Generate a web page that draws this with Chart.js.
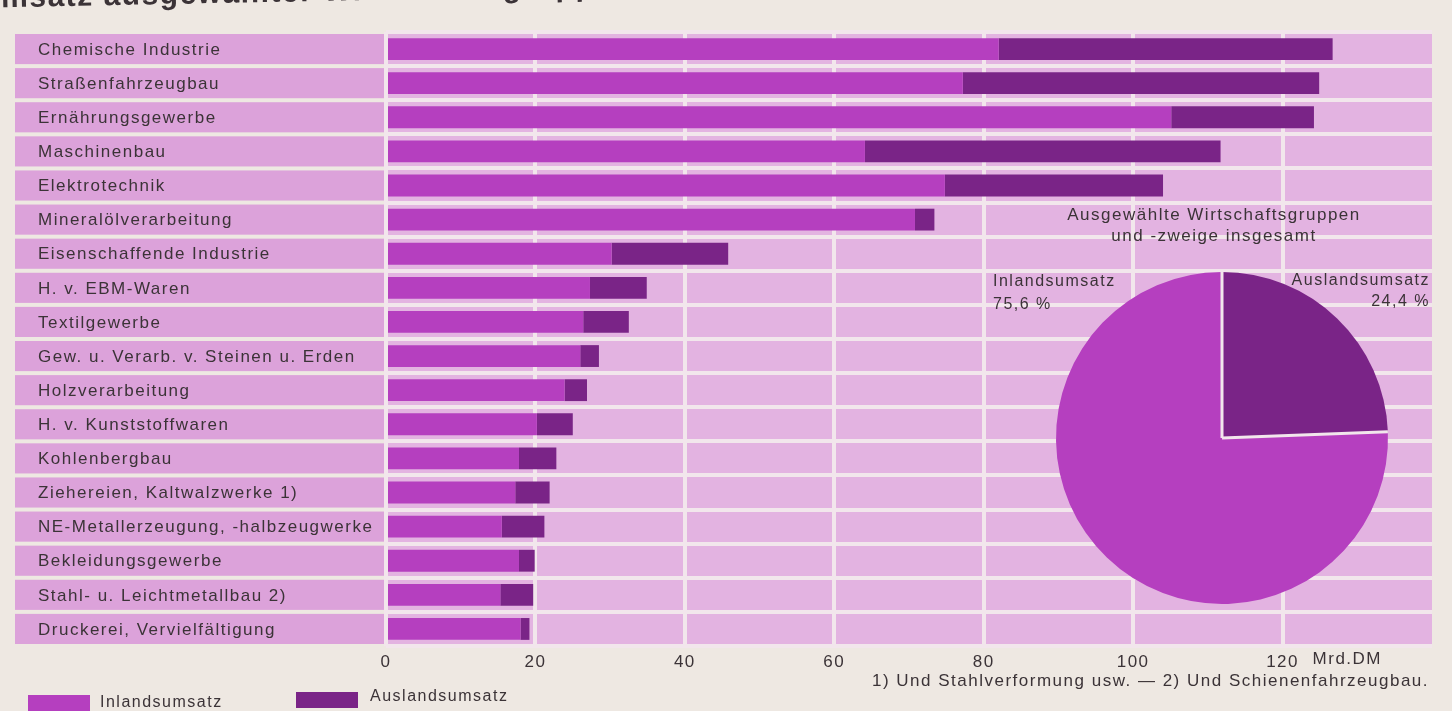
<!DOCTYPE html>
<html lang="de">
<head>
<meta charset="utf-8">
<title>Umsatz ausgewählter Wirtschaftsgruppen</title>
<script src="https://cdn.jsdelivr.net/npm/chart.js@4.4.1/dist/chart.umd.min.js"></script>
<style>
  html, body { margin: 0; padding: 0; background: #eee8e2; overflow: hidden; }
  #wrap { position: relative; width: 1452px; height: 711px; }
  #bars { position: absolute; left: 0; top: 0; }
  #pie { position: absolute; left: 980px; top: 195px; }
</style>
</head>
<body>
<div id="wrap">
  <canvas id="bars" width="1452" height="711"></canvas>
  <canvas id="pie" width="452" height="415"></canvas>
</div>
<script>
// Daten (Mrd. DM)
const branchen = [
    'Chemische Industrie',
    'Straßenfahrzeugbau',
    'Ernährungsgewerbe',
    'Maschinenbau',
    'Elektrotechnik',
    'Mineralölverarbeitung',
    'Eisenschaffende Industrie',
    'H. v. EBM-Waren',
    'Textilgewerbe',
    'Gew. u. Verarb. v. Steinen u. Erden',
    'Holzverarbeitung',
    'H. v. Kunststoffwaren',
    'Kohlenbergbau',
    'Ziehereien, Kaltwalzwerke 1)',
    'NE-Metallerzeugung, -halbzeugwerke',
    'Bekleidungsgewerbe',
    'Stahl- u. Leichtmetallbau 2)',
    'Druckerei, Vervielfältigung'
];
const inlandsumsatz = [82.0, 77.2, 105.1, 64.1, 74.8, 70.8, 30.2, 27.3, 26.4, 26.0, 23.9, 20.2, 17.8, 17.3, 15.5, 17.8, 15.3, 18.0];
const auslandsumsatz = [44.7, 47.7, 19.1, 47.6, 29.2, 2.6, 15.6, 7.6, 6.1, 2.5, 3.0, 4.8, 5.0, 4.6, 5.7, 2.1, 4.4, 1.2];
const xTicks = [0, 20, 40, 60, 80, 100, 120];
const einheit = 'Mrd.DM';

const pieLabels = ['Auslandsumsatz', 'Inlandsumsatz'];
const pieValues = [24.4, 75.6];
const pieTitel = ['Ausgewählte Wirtschaftsgruppen', 'und -zweige insgesamt'];

const titel = 'Umsatz ausgewählter Wirtschaftsgruppen';
const fussnote = '1) Und Stahlverformung usw. — 2) Und Schienenfahrzeugbau.';

(function() {
    'use strict';

    const FARBE_INLAND = '#b53fbf';
    const FARBE_AUSLAND = '#7a2487';
    const FLAECHE = '#e3b3e1';
    const ZELLE = '#dca2da';
    const LINIE = '#f2e6ec';
    const TEXT = '#3b3337';
    const SCHRIFT = '"Liberation Sans", Arial, sans-serif';

    /**
     * Text mit Sperrung schreiben
     */
    function schreibe(ctx, text, x, y, align, size, weight) {
        ctx.save();
        ctx.font = (weight || 'normal') + ' ' + size + 'px ' + SCHRIFT;
        ctx.letterSpacing = '1.5px';
        ctx.fillStyle = TEXT;
        ctx.textAlign = align;
        ctx.textBaseline = 'middle';
        ctx.fillText(text, x, y);
        ctx.restore();
    }

    // Hintergrund, Zeilenfelder und Branchennamen
    const hintergrund = {
        id: 'hintergrund',
        beforeDraw(chart) {
            const { ctx, chartArea } = chart;
            const y = chart.scales.y;
            const pitch = y.getPixelForValue(1) - y.getPixelForValue(0);

            ctx.fillStyle = FLAECHE;
            ctx.fillRect(chartArea.left, chartArea.top, chartArea.right - chartArea.left, chartArea.bottom - chartArea.top);

            chart.data.labels.forEach((name, i) => {
                const yc = y.getPixelForValue(i);
                ctx.fillStyle = ZELLE;
                ctx.fillRect(15, yc - pitch / 2 + 2, chartArea.left - 17, pitch - 4);
                schreibe(ctx, name, 38, yc + 1, 'left', 17);
            });

            // Ticks der x-Achse sollen auch gesperrt sein
            ctx.letterSpacing = '1.5px';
        },
        afterDraw(chart) {
            const { ctx } = chart;
            const x = chart.scales.x;
            const ds = chart.data.datasets;

            // Überschrift: oben angeschnitten, leicht schräg wie im Druck
            ctx.save();
            ctx.rotate(-0.02);
            schreibe(ctx, titel, -22, -1, 'left', 30, 'bold');
            ctx.restore();

            schreibe(ctx, einheit, x.getPixelForValue(120) + 30, 659, 'left', 17);

            // Legende
            ctx.fillStyle = ds[0].backgroundColor;
            ctx.fillRect(28, 695, 62, 16);
            schreibe(ctx, ds[0].label, 100, 703, 'left', 16);
            ctx.fillStyle = ds[1].backgroundColor;
            ctx.fillRect(296, 692, 62, 16);
            schreibe(ctx, ds[1].label, 370, 697, 'left', 16);

            schreibe(ctx, fussnote, 872, 681, 'left', 17);
        }
    };

    new Chart(document.getElementById('bars'), {
        type: 'bar',
        data: {
            labels: branchen,
            datasets: [
                { label: 'Inlandsumsatz', data: inlandsumsatz, backgroundColor: FARBE_INLAND },
                { label: 'Auslandsumsatz', data: auslandsumsatz, backgroundColor: FARBE_AUSLAND }
            ]
        },
        options: {
            indexAxis: 'y',
            responsive: false,
            animation: false,
            devicePixelRatio: 1,
            layout: { padding: { left: 386, right: 20, top: 32, bottom: 0 } },
            datasets: { bar: { categoryPercentage: 1, barPercentage: 0.64 } },
            plugins: {
                legend: { display: false },
                tooltip: { enabled: false }
            },
            scales: {
                x: {
                    stacked: true,
                    min: 0,
                    max: 140,
                    afterFit: (s) => { s.height = 65; },
                    afterBuildTicks: (s) => { s.ticks = xTicks.map(v => ({ value: v })); },
                    grid: { color: LINIE, lineWidth: 4, drawTicks: false },
                    border: { display: false },
                    ticks: {
                        color: TEXT,
                        font: { family: SCHRIFT, size: 17 },
                        padding: 6,
                        maxRotation: 0
                    }
                },
                y: {
                    stacked: true,
                    grid: { color: LINIE, lineWidth: 4, drawTicks: false, offset: true },
                    border: { display: false },
                    ticks: { display: false }
                }
            }
        },
        plugins: [hintergrund]
    });

    // Kreisdiagramm: Trennlinien und Beschriftung
    const kreis = {
        id: 'kreis',
        afterDatasetsDraw(chart) {
            const { ctx } = chart;
            ctx.save();
            ctx.strokeStyle = LINIE;
            ctx.lineWidth = 3;
            chart.getDatasetMeta(0).data.forEach(arc => {
                ctx.beginPath();
                ctx.moveTo(arc.x, arc.y);
                ctx.lineTo(arc.x + Math.cos(arc.startAngle) * arc.outerRadius,
                           arc.y + Math.sin(arc.startAngle) * arc.outerRadius);
                ctx.stroke();
            });
            ctx.restore();
        },
        afterDraw(chart) {
            const { ctx } = chart;
            const fmt = (v) => v.toFixed(1).replace('.', ',') + ' %';
            schreibe(ctx, pieTitel[0], 234, 20, 'center', 17);
            schreibe(ctx, pieTitel[1], 234, 41, 'center', 17);
            schreibe(ctx, chart.data.labels[1], 13, 87, 'left', 16);
            schreibe(ctx, fmt(pieValues[1]), 13, 110, 'left', 16);
            schreibe(ctx, chart.data.labels[0], 450, 86, 'right', 16);
            schreibe(ctx, fmt(pieValues[0]), 450, 107, 'right', 16);
        }
    };

    new Chart(document.getElementById('pie'), {
        type: 'pie',
        data: {
            labels: pieLabels,
            datasets: [{
                data: pieValues,
                backgroundColor: [FARBE_AUSLAND, FARBE_INLAND],
                borderWidth: 0
            }]
        },
        options: {
            responsive: false,
            animation: false,
            devicePixelRatio: 1,
            layout: { padding: { left: 76, right: 44, top: 77, bottom: 6 } },
            plugins: {
                legend: { display: false },
                tooltip: { enabled: false }
            }
        },
        plugins: [kreis]
    });
})();
</script>
</body>
</html>
